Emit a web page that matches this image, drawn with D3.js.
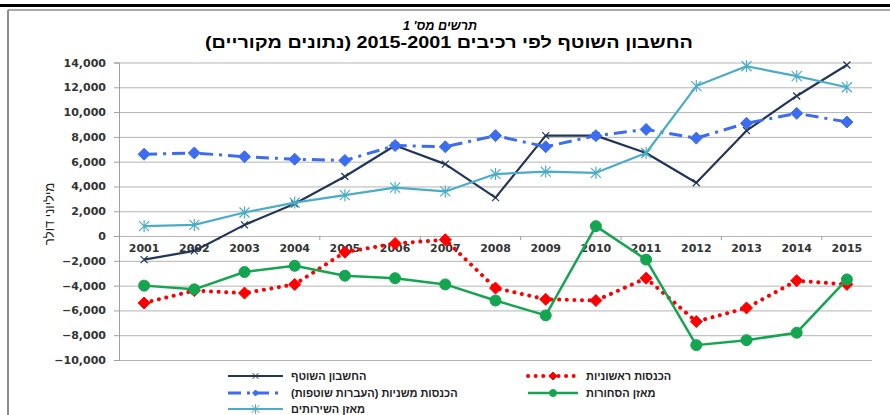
<!DOCTYPE html>
<html>
<head>
<meta charset="utf-8">
<script src="https://cdn.jsdelivr.net/npm/d3@7"></script>
<style>
  body { margin: 0; background: #fff; }
  svg { display: block; }
</style>
</head>
<body>
<div id="chart"></div>
<script>
// values (millions of dollars)
const years = [2001, 2002, 2003, 2004, 2005, 2006, 2007, 2008, 2009, 2010, 2011, 2012, 2013, 2014, 2015];
const currentAccount = [-1900, -1200, 900, 2600, 4800, 7300, 5800, 3100, 8100, 8100, 6700, 4300, 8500, 11300, 13800];
const primaryIncome = [-5400, -4400, -4600, -3900, -1300, -600, -300, -4200, -5100, -5200, -3400, -6900, -5800, -3600, -3900];
const secondaryIncome = [6600, 6700, 6400, 6200, 6100, 7300, 7200, 8100, 7200, 8100, 8600, 7900, 9100, 9900, 9200];
const goodsBalance = [-4000, -4300, -2900, -2400, -3200, -3400, -3900, -5200, -6400, 800, -1900, -8800, -8400, -7800, -3500];
const servicesBalance = [800, 900, 1900, 2700, 3300, 3900, 3600, 5000, 5200, 5100, 6700, 12100, 13700, 12900, 12000];
const yTicks = [-10000, -8000, -6000, -4000, -2000, 0, 2000, 4000, 6000, 8000, 10000, 12000, 14000];

const seriesNames = ['החשבון השוטף', 'הכנסות ראשוניות', 'הכנסות משניות (העברות שוטפות)', 'מאזן הסחורות', 'מאזן השירותים'];

const width = 890, height = 415;
const plot = { left: 119, right: 872, top: 62.5, bottom: 360 };

const svg = d3.select('#chart').append('svg')
  .attr('width', width)
  .attr('height', height);

// frame: black rule on top, grey border below it
svg.append('rect').attr('x', 0).attr('y', 4).attr('width', width).attr('height', 3).attr('fill', '#000');
svg.append('line').attr('x1', 8).attr('x2', width).attr('y1', 10).attr('y2', 10).attr('stroke', '#8c8c8c').attr('stroke-width', 1.5);
svg.append('line').attr('x1', 8).attr('x2', 8).attr('y1', 10).attr('y2', height).attr('stroke', '#8c8c8c').attr('stroke-width', 2);

// titles (the original font is wider, so stretch to its measured width)
svg.append('text')
  .attr('x', 440).attr('y', 30)
  .attr('direction', 'rtl')
  .attr('text-anchor', 'middle')
  .attr('textLength', 74)
  .attr('lengthAdjust', 'spacingAndGlyphs')
  .style('font-family', 'Liberation Sans, Arial, sans-serif')
  .style('font-size', '13px').style('font-weight', 'bold').style('font-style', 'italic')
  .text("תרשים מס' 1");

svg.append('text')
  .attr('x', 449).attr('y', 48)
  .attr('direction', 'rtl')
  .attr('text-anchor', 'middle')
  .attr('textLength', 488)
  .attr('lengthAdjust', 'spacingAndGlyphs')
  .style('font-family', 'Liberation Sans, Arial, sans-serif')
  .style('font-size', '16px').style('font-weight', 'bold')
  .text('החשבון השוטף לפי רכיבים 2015-2001 (נתונים מקוריים)');

const x = d3.scaleBand().domain(years).range([plot.left, plot.right]).padding(0);
const cx = d => x(d) + x.bandwidth() / 2;
const y = d3.scaleLinear().domain([-10000, 14000]).range([plot.bottom, plot.top]);

// gridlines
svg.append('g')
  .attr('transform', `translate(${plot.left},0)`)
  .call(d3.axisLeft(y).tickValues(yTicks).tickSize(-(plot.right - plot.left)).tickFormat(''))
  .call(g => g.select('.domain').remove())
  .call(g => g.selectAll('line').attr('stroke', '#b4b4b4'));

// y axis with labels
svg.append('g')
  .attr('transform', `translate(${plot.left},0)`)
  .call(d3.axisLeft(y).tickValues(yTicks).tickSize(5).tickPadding(8).tickFormat(d3.format(',')))
  .call(g => g.select('.domain').attr('stroke', '#a0a0a0'))
  .call(g => g.selectAll('line').attr('stroke', '#a0a0a0'))
  .call(g => g.selectAll('text')
    .style('font-family', 'DejaVu Sans, sans-serif')
    .style('font-size', '11px').style('font-weight', 'bold')
    .attr('fill', '#333'));

// y axis title
svg.append('text')
  .attr('transform', 'translate(54,214) rotate(-90)')
  .attr('direction', 'rtl')
  .attr('text-anchor', 'middle')
  .style('font-family', 'Liberation Sans, Arial, sans-serif')
  .style('font-size', '13px')
  .attr('fill', '#222')
  .text('מיליוני דולר');

// category axis on the zero line
const y0 = y(0);
svg.append('g')
  .attr('transform', `translate(0,${y0})`)
  .call(d3.axisBottom(x).tickSize(0).tickPadding(8))
  .call(g => g.select('.domain').remove())
  .call(g => g.selectAll('text')
    .style('font-family', 'DejaVu Sans, sans-serif')
    .style('font-size', '11px').style('font-weight', 'bold')
    .attr('fill', '#333'));

svg.append('g').selectAll('line')
  .data(years.filter((d, i) => i > 0 && i % 2 === 0))
  .join('line')
  .attr('x1', d => x(d)).attr('x2', d => x(d))
  .attr('y1', y0).attr('y2', y0 + 4)
  .attr('stroke', '#a0a0a0');

// marker shapes
const markers = {
  times: { draw(ctx, s) { ctx.moveTo(-s, -s); ctx.lineTo(s, s); ctx.moveTo(-s, s); ctx.lineTo(s, -s); } },
  star: { draw(ctx, s) { ctx.moveTo(-s, -s); ctx.lineTo(s, s); ctx.moveTo(-s, s); ctx.lineTo(s, -s); ctx.moveTo(0, -s * 1.2); ctx.lineTo(0, s * 1.2); } },
  diamond: { draw(ctx, s) { ctx.moveTo(0, -s); ctx.lineTo(s, 0); ctx.lineTo(0, s); ctx.lineTo(-s, 0); ctx.closePath(); } },
  circle: { draw(ctx, s) { ctx.moveTo(s, 0); ctx.arc(0, 0, s, 0, 2 * Math.PI); } }
};

const series = [
  { name: seriesNames[0], values: currentAccount, color: '#233657', width: 2.2, dash: null, cap: 'butt', marker: 'times', size: 3.5, filled: false, legendSize: 3 },
  { name: seriesNames[1], values: primaryIncome, color: '#ff0000', width: 4, dash: '0.1,7.5', cap: 'round', marker: 'diamond', size: 6, filled: true, legendSize: 4 },
  { name: seriesNames[2], values: secondaryIncome, color: '#3c6cf0', width: 3, dash: '13,6,3,6', cap: 'butt', marker: 'diamond', size: 6, filled: true, legendSize: 3 },
  { name: seriesNames[3], values: goodsBalance, color: '#14a550', width: 2.5, dash: null, cap: 'butt', marker: 'circle', size: 5.5, filled: true, legendSize: 3.5 },
  { name: seriesNames[4], values: servicesBalance, color: '#4bacc6', width: 2.2, dash: null, cap: 'butt', marker: 'star', size: 5, filled: false, legendSize: 4 }
];

function markerPath(type, s) {
  const p = d3.path();
  markers[type].draw(p, s);
  return p.toString();
}

const line = d3.line().x((d, i) => cx(years[i])).y(d => y(d));

series.forEach(s => {
  const g = svg.append('g');
  g.append('path')
    .attr('d', line(s.values))
    .attr('fill', 'none')
    .attr('stroke', s.color)
    .attr('stroke-width', s.width)
    .attr('stroke-linecap', s.cap)
    .attr('stroke-linejoin', 'round')
    .attr('stroke-dasharray', s.dash);
  g.selectAll('path.m')
    .data(s.values)
    .join('path')
    .attr('class', 'm')
    .attr('transform', (d, i) => `translate(${cx(years[i])},${y(d)})`)
    .attr('d', markerPath(s.marker, s.size))
    .attr('fill', s.filled ? s.color : 'none')
    .attr('stroke', s.color)
    .attr('stroke-width', s.filled ? 1 : 1.2);
});

// legend: two columns, filled row by row
const legendCols = [{ x: 228, len: 55 }, { x: 528, len: 50 }];
const legendRows = [376, 393, 409];
series.forEach((s, i) => {
  const col = legendCols[i % 2];
  const lx = col.x;
  const ly = legendRows[Math.floor(i / 2)];
  const g = svg.append('g');
  g.append('line')
    .attr('x1', lx).attr('x2', lx + col.len)
    .attr('y1', ly).attr('y2', ly)
    .attr('stroke', s.color)
    .attr('stroke-width', s.width)
    .attr('stroke-linecap', s.cap)
    .attr('stroke-dasharray', s.dash);
  g.append('path')
    .attr('transform', `translate(${lx + col.len / 2},${ly})`)
    .attr('d', markerPath(s.marker, s.legendSize))
    .attr('fill', s.filled ? s.color : 'none')
    .attr('stroke', s.color)
    .attr('stroke-width', 1);
  g.append('text')
    .attr('x', lx + col.len + 8)
    .attr('y', ly + 4)
    .attr('direction', 'rtl')
    .attr('text-anchor', 'end')
    .style('font-family', 'Liberation Sans, Arial, sans-serif')
    .style('font-size', '11px').style('font-weight', 'bold')
    .attr('fill', '#222')
    .text(s.name);
});
</script>
</body>
</html>
